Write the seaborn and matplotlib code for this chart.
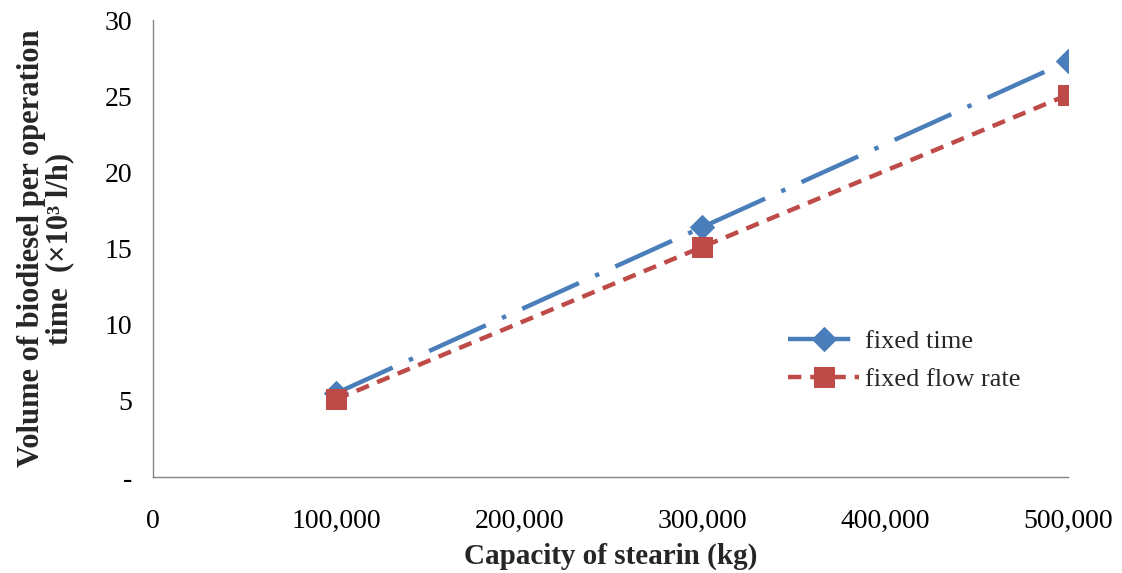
import matplotlib
matplotlib.use("Agg")
import matplotlib.pyplot as plt
import matplotlib.ticker as mticker
import seaborn as sns
import pandas as pd

capacity = [100000, 300000, 500000]
fixed_time = [5.5, 16.4, 27.3]
fixed_flow_rate = [5.1, 15.1, 25.1]
y_ticks = [0, 5, 10, 15, 20, 25, 30]
y_tick_labels = ["-", "5", "10", "15", "20", "25", "30"]
x_ticks = [0, 100000, 200000, 300000, 400000, 500000]

sns.set_theme(style="white")
plt.rcParams['font.family'] = ['Liberation Serif', 'DejaVu Serif']

fig = plt.figure(figsize=(11.22, 5.73), dpi=100)
ax = fig.add_axes([0.1364, 0.1675, 0.8156, 0.7975])

df1 = pd.DataFrame({"x": capacity, "y": fixed_time})
df2 = pd.DataFrame({"x": capacity, "y": fixed_flow_rate})

sns.lineplot(data=df1, x="x", y="y", ax=ax, color="#4A7EBB", lw=3.2,
             marker="D", markersize=12, markeredgecolor="#4A7EBB",
             label="fixed time")
ax.lines[-1].set_dashes([14, 4, 1, 4])
sns.lineplot(data=df2, x="x", y="y", ax=ax, color="#BE4B48", lw=3.2,
             marker="s", markersize=14, markeredgecolor="#BE4B48",
             label="fixed flow rate")
ax.lines[-1].set_dashes([3, 2])

ax.set_xlim(0, 500000)
ax.set_ylim(0, 30)
ax.set_xticks(x_ticks)
ax.xaxis.set_major_formatter(mticker.FuncFormatter(lambda v, p: f"{int(v):,}"))
ax.set_yticks(y_ticks)
ax.set_yticklabels(y_tick_labels)

for s in ["top", "right"]:
    ax.spines[s].set_visible(False)
for s in ["left", "bottom"]:
    ax.spines[s].set_color("#868686")
    ax.spines[s].set_linewidth(1.0)
ax.tick_params(axis="both", which="major", direction="out", length=5,
               color="#868686", labelsize=20, labelcolor="black")
ax.tick_params(axis="x", pad=18)
ax.tick_params(axis="y", pad=10)

ax.set_xlabel("Capacity of stearin (kg)", fontsize=21, fontweight="bold", labelpad=6)
ax.set_ylabel("Volume of biodiesel per operation\ntime  (×10³ l/h)", fontsize=22,
              fontweight="bold", labelpad=22, linespacing=0.95)

ax.legend(loc="upper left", bbox_to_anchor=(0.668, 0.375), frameon=False,
          fontsize=19, handlelength=2.7, handletextpad=0.2, labelspacing=0.55)

fig.savefig("out.png", dpi=100)
